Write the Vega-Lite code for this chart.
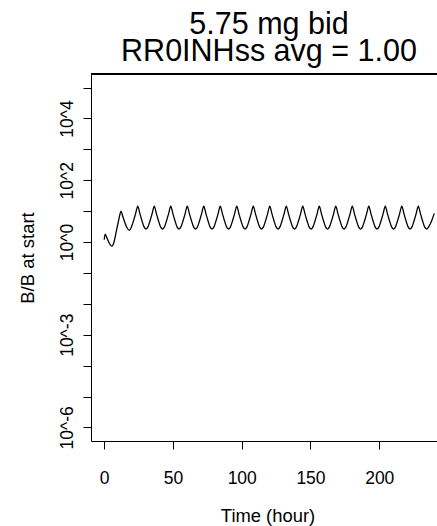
{
  "$schema": "https://vega.github.io/schema/vega-lite/v6.json",
  "autosize": {"type": "none"},
  "padding": {"left": 91, "top": 74, "right": 0, "bottom": 85},
  "width": 346,
  "height": 367,
  "background": "white",
  "config": {
    "view": {"stroke": null},
    "font": "Liberation Sans",
    "axis": {"domainColor": "black", "tickColor": "black", "labelColor": "black", "titleColor": "black", "grid": false, "domainWidth": 1, "tickWidth": 1, "labelFont": "Liberation Sans", "titleFont": "Liberation Sans", "titleFontWeight": "normal"}
  },
  "title": {
    "text": ["5.75 mg bid", "RR0INHss avg = 1.00"],
    "fontSize": 30.5,
    "fontWeight": "normal",
    "font": "Liberation Sans",
    "color": "black",
    "lineHeight": 27,
    "anchor": "middle",
    "dx": 5,
    "offset": 6
  },
  "data": {"values": [
    {"t": 0, "v": 1.2}, {"t": 0.7, "v": 1.8}, {"t": 2, "v": 1.35}, {"t": 3.5, "v": 0.95}, {"t": 5.5, "v": 0.74},
    {"t": 7, "v": 0.95}, {"t": 8.5, "v": 1.9}, {"t": 10, "v": 4.0}, {"t": 11.2, "v": 7.0}, {"t": 12.2, "v": 10.0},
    {"t": 13.5, "v": 6.8}, {"t": 15, "v": 4.3}, {"t": 16.6, "v": 2.9}, {"t": 18.3, "v": 2.4},
    {"t": 19.9, "v": 3.16}, {"t": 21.4, "v": 5.0}, {"t": 22.9, "v": 8.5}, {"t": 24.4, "v": 14.5},
    {"t": 25.9, "v": 8.5}, {"t": 27.4, "v": 5.0}, {"t": 28.9, "v": 3.16}, {"t": 30.4, "v": 2.63}, {"t": 31.9, "v": 3.16}, {"t": 33.4, "v": 5.0}, {"t": 34.9, "v": 8.5}, {"t": 36.4, "v": 14.5},
    {"t": 37.9, "v": 8.5}, {"t": 39.4, "v": 5.0}, {"t": 40.9, "v": 3.16}, {"t": 42.4, "v": 2.63}, {"t": 43.9, "v": 3.16}, {"t": 45.4, "v": 5.0}, {"t": 46.9, "v": 8.5}, {"t": 48.4, "v": 14.5},
    {"t": 49.9, "v": 8.5}, {"t": 51.4, "v": 5.0}, {"t": 52.9, "v": 3.16}, {"t": 54.4, "v": 2.63}, {"t": 55.9, "v": 3.16}, {"t": 57.4, "v": 5.0}, {"t": 58.9, "v": 8.5}, {"t": 60.4, "v": 14.5},
    {"t": 61.9, "v": 8.5}, {"t": 63.4, "v": 5.0}, {"t": 64.9, "v": 3.16}, {"t": 66.4, "v": 2.63}, {"t": 67.9, "v": 3.16}, {"t": 69.4, "v": 5.0}, {"t": 70.9, "v": 8.5}, {"t": 72.4, "v": 14.5},
    {"t": 73.9, "v": 8.5}, {"t": 75.4, "v": 5.0}, {"t": 76.9, "v": 3.16}, {"t": 78.4, "v": 2.63}, {"t": 79.9, "v": 3.16}, {"t": 81.4, "v": 5.0}, {"t": 82.9, "v": 8.5}, {"t": 84.4, "v": 14.5},
    {"t": 85.9, "v": 8.5}, {"t": 87.4, "v": 5.0}, {"t": 88.9, "v": 3.16}, {"t": 90.4, "v": 2.63}, {"t": 91.9, "v": 3.16}, {"t": 93.4, "v": 5.0}, {"t": 94.9, "v": 8.5}, {"t": 96.4, "v": 14.5},
    {"t": 97.9, "v": 8.5}, {"t": 99.4, "v": 5.0}, {"t": 100.9, "v": 3.16}, {"t": 102.4, "v": 2.63}, {"t": 103.9, "v": 3.16}, {"t": 105.4, "v": 5.0}, {"t": 106.9, "v": 8.5}, {"t": 108.4, "v": 14.5},
    {"t": 109.9, "v": 8.5}, {"t": 111.4, "v": 5.0}, {"t": 112.9, "v": 3.16}, {"t": 114.4, "v": 2.63}, {"t": 115.9, "v": 3.16}, {"t": 117.4, "v": 5.0}, {"t": 118.9, "v": 8.5}, {"t": 120.4, "v": 14.5},
    {"t": 121.9, "v": 8.5}, {"t": 123.4, "v": 5.0}, {"t": 124.9, "v": 3.16}, {"t": 126.4, "v": 2.63}, {"t": 127.9, "v": 3.16}, {"t": 129.4, "v": 5.0}, {"t": 130.9, "v": 8.5}, {"t": 132.4, "v": 14.5},
    {"t": 133.9, "v": 8.5}, {"t": 135.4, "v": 5.0}, {"t": 136.9, "v": 3.16}, {"t": 138.4, "v": 2.63}, {"t": 139.9, "v": 3.16}, {"t": 141.4, "v": 5.0}, {"t": 142.9, "v": 8.5}, {"t": 144.4, "v": 14.5},
    {"t": 145.9, "v": 8.5}, {"t": 147.4, "v": 5.0}, {"t": 148.9, "v": 3.16}, {"t": 150.4, "v": 2.63}, {"t": 151.9, "v": 3.16}, {"t": 153.4, "v": 5.0}, {"t": 154.9, "v": 8.5}, {"t": 156.4, "v": 14.5},
    {"t": 157.9, "v": 8.5}, {"t": 159.4, "v": 5.0}, {"t": 160.9, "v": 3.16}, {"t": 162.4, "v": 2.63}, {"t": 163.9, "v": 3.16}, {"t": 165.4, "v": 5.0}, {"t": 166.9, "v": 8.5}, {"t": 168.4, "v": 14.5},
    {"t": 169.9, "v": 8.5}, {"t": 171.4, "v": 5.0}, {"t": 172.9, "v": 3.16}, {"t": 174.4, "v": 2.63}, {"t": 175.9, "v": 3.16}, {"t": 177.4, "v": 5.0}, {"t": 178.9, "v": 8.5}, {"t": 180.4, "v": 14.5},
    {"t": 181.9, "v": 8.5}, {"t": 183.4, "v": 5.0}, {"t": 184.9, "v": 3.16}, {"t": 186.4, "v": 2.63}, {"t": 187.9, "v": 3.16}, {"t": 189.4, "v": 5.0}, {"t": 190.9, "v": 8.5}, {"t": 192.4, "v": 14.5},
    {"t": 193.9, "v": 8.5}, {"t": 195.4, "v": 5.0}, {"t": 196.9, "v": 3.16}, {"t": 198.4, "v": 2.63}, {"t": 199.9, "v": 3.16}, {"t": 201.4, "v": 5.0}, {"t": 202.9, "v": 8.5}, {"t": 204.4, "v": 14.5},
    {"t": 205.9, "v": 8.5}, {"t": 207.4, "v": 5.0}, {"t": 208.9, "v": 3.16}, {"t": 210.4, "v": 2.63}, {"t": 211.9, "v": 3.16}, {"t": 213.4, "v": 5.0}, {"t": 214.9, "v": 8.5}, {"t": 216.4, "v": 14.5},
    {"t": 217.9, "v": 8.5}, {"t": 219.4, "v": 5.0}, {"t": 220.9, "v": 3.16}, {"t": 222.4, "v": 2.63}, {"t": 223.9, "v": 3.16}, {"t": 225.4, "v": 5.0}, {"t": 226.9, "v": 8.5}, {"t": 228.4, "v": 14.5},
    {"t": 229.9, "v": 8.5}, {"t": 231.4, "v": 5.0}, {"t": 232.9, "v": 3.16}, {"t": 234.5, "v": 2.63}, {"t": 236.3, "v": 3.3}, {"t": 238.2, "v": 5.0}, {"t": 240, "v": 8.5}
  ]},
  "layer": [
    {
      "mark": {"type": "line", "color": "black", "strokeWidth": 1.3, "interpolate": "monotone", "clip": true},
      "encoding": {
        "x": {"field": "t", "type": "quantitative", "scale": {"domain": [-9.6, 242.0], "nice": false, "zero": false},
          "axis": {"title": "Time (hour)", "values": [0, 50, 100, 150, 200], "tickSize": 8, "labelFontSize": 17.5, "labelBaseline": "alphabetic", "labelPadding": 34, "labelFlush": false, "labelOverlap": false, "titleFontSize": 18.4, "titleBaseline": "alphabetic", "titleX": 176.5, "titleY": 80, "titleAnchor": "middle"}},
        "y": {"field": "v", "type": "quantitative", "scale": {"type": "log", "domain": [3.63e-7, 275400], "nice": false},
          "axis": {"title": "B/B at start", "values": [1e-6, 1e-5, 1e-4, 1e-3, 1e-2, 1e-1, 1, 10, 100, 1000, 10000, 100000],
            "labelExpr": "indexof([4, 2, 0, -3, -6], round(log(datum.value) / LN10)) >= 0 ? '10^' + round(log(datum.value) / LN10) : ''",
            "tickSize": 8, "labelFontSize": 17.5, "labelAngle": 270, "labelAlign": "center", "labelBaseline": "alphabetic", "labelPadding": 11, "labelOverlap": false, "labelFlush": false,
            "titleFontSize": 18.5, "titleBaseline": "alphabetic", "titleAngle": 270, "titleX": -58, "titleAnchor": "middle"}}
      }
    },
    {
      "mark": {"type": "rule", "color": "black", "strokeWidth": 1},
      "encoding": {"y": {"datum": 275400}}
    }
  ]
}
